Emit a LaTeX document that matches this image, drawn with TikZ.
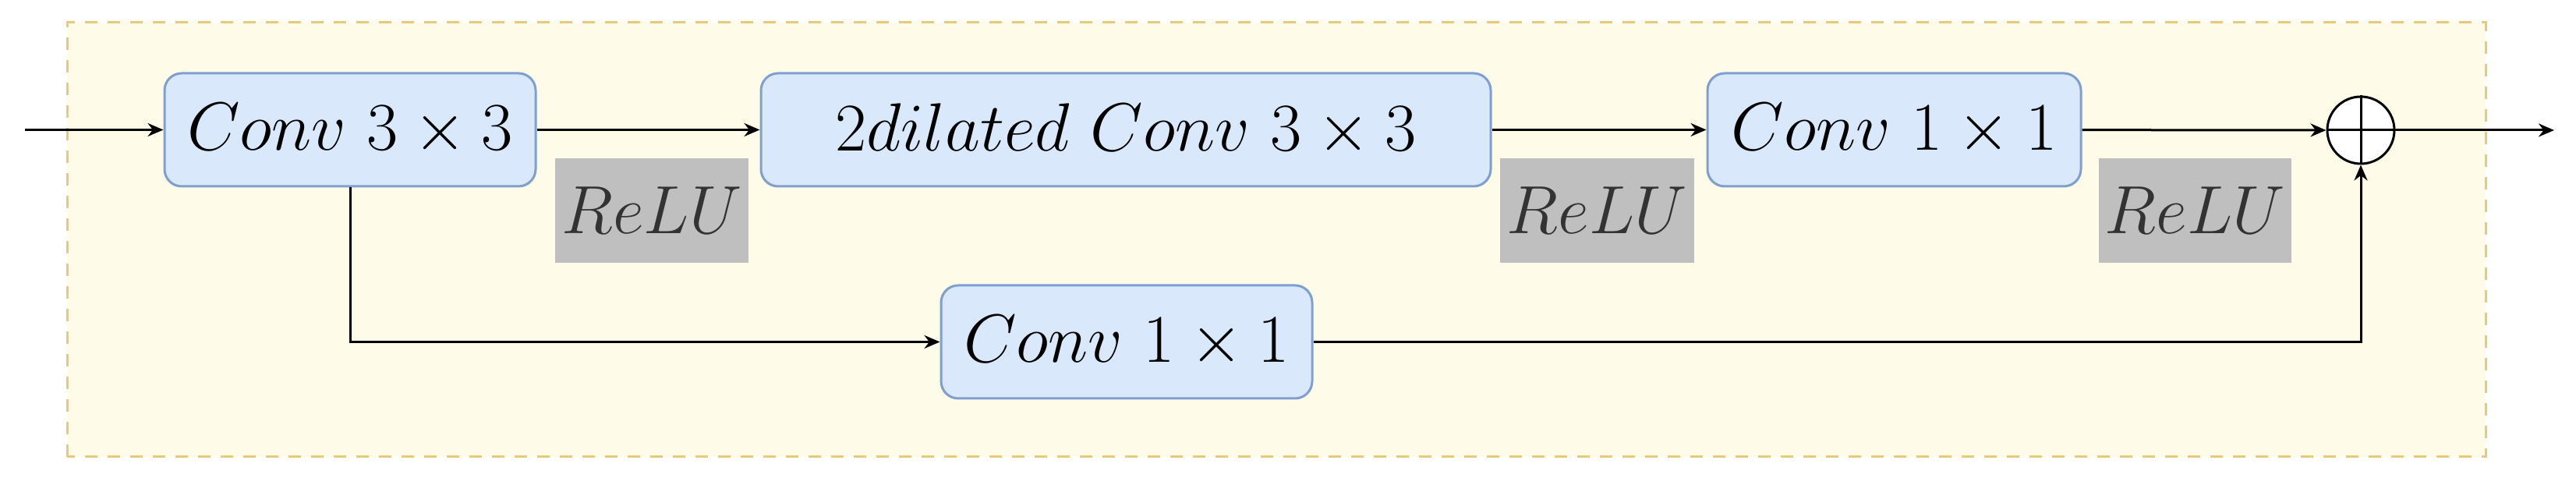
\documentclass[tikz,border=0pt]{standalone}
\usetikzlibrary{arrows.meta}
\definecolor{blockfill}{HTML}{DAE8FC}
\definecolor{blockline}{HTML}{7F9FD2}
\definecolor{framefill}{HTML}{FEFCE8}
\definecolor{frameline}{HTML}{E8CB78}
\definecolor{actfill}{HTML}{BFBFBF}
\definecolor{acttext}{HTML}{333333}
\begin{document}
\begin{tikzpicture}[
    block/.style={draw=blockline, fill=blockfill, line width=0.03cm, rounded corners=0.22cm,
        minimum height=1.45cm, inner sep=0pt, font=\Huge},
    act/.style={fill=actfill, text=acttext, minimum width=2.48cm, minimum height=1.34cm,
        inner sep=0pt, font=\Huge},
    flow/.style={line width=0.03cm, -{Stealth[length=0.2cm, width=0.17cm]}},
    wire/.style={line width=0.03cm},
]
                \useasboundingbox (0,0) rectangle (33.04,6.22);
                
                % Drawing dashed frame
                \draw [frameline, fill=framefill, line width=0.03cm, dash pattern=on 0.16cm off 0.13cm] (0.86,0.36) rectangle (31.88,5.93);%
                
                % Placing blocks on main path
                \node [block, minimum width=4.76cm] (conv3) at (4.49,4.555) {$Conv\ 3\times 3$};%
                \node [block, minimum width=9.36cm] (dil3) at (14.44,4.555) {$2dilated\ Conv\ 3\times 3$};%
                \node [block, minimum width=4.79cm] (conv1) at (24.295,4.555) {$Conv\ 1\times 1$};%
                
                % Placing block on skip path
                \node [block, minimum width=4.76cm] (skip1) at (14.45,1.835) {$Conv\ 1\times 1$};%
                
                % Placing activations
                \node [act] (relu1) at (8.36,3.52) {$ReLU$};%
                \node [act, minimum width=2.49cm] (relu2) at (20.485,3.52) {$ReLU$};%
                \node [act, minimum width=2.47cm] (relu3) at (28.155,3.52) {$ReLU$};%
                
                % Placing sum
                \node [circle, draw, fill=white, line width=0.03cm, minimum size=0.86cm, inner sep=0pt] (sum) at (30.28,4.55) {};%
                \draw [wire] (sum.north) -- (sum.south);%
                \draw [wire] (sum.west) -- (sum.east);%
                
                % Input and output ends
                \coordinate (in) at (0.32,4.555);%
                \coordinate (out) at (32.76,4.55);%
                
                % Drawing main path
                \draw [flow] (in) -- (conv3);%
                \draw [flow] (conv3) -- (dil3);%
                \draw [flow] (dil3) -- (conv1);%
                \draw [flow] (conv1) -- (sum);%
                \draw [flow] (sum) -- (out);%
                
                % Drawing skip path
                \draw [flow] (conv3.south) |- (skip1.west);%
                \draw [flow] (skip1.east) -| (sum.south);%
\end{tikzpicture}
\end{document}
